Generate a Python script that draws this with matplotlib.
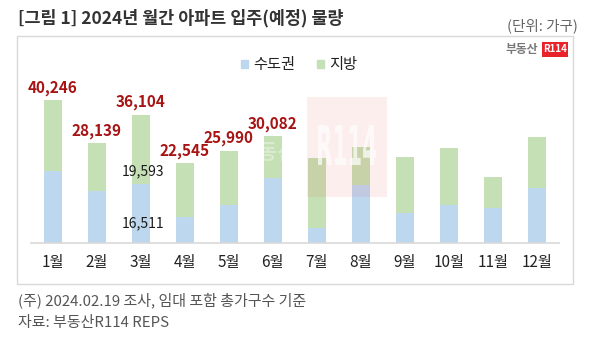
import matplotlib
matplotlib.use("Agg")
import matplotlib.pyplot as plt
from matplotlib.patches import Rectangle, Patch, PathPatch
from matplotlib.textpath import TextPath
from matplotlib.font_manager import FontProperties
from matplotlib.transforms import Affine2D

plt.rcParams['font.family'] = ['Noto Sans CJK KR', 'DejaVu Sans']

months = ['1월', '2월', '3월', '4월', '5월', '6월', '7월', '8월', '9월', '10월', '11월', '12월']
capital = [20300, 14580, 16511, 7140, 10530, 18240, 4230, 16270, 8270, 10720, 9870, 15510]
regional = [19946, 13559, 19593, 15405, 15460, 11842, 19650, 10800, 15900, 16070, 8550, 14290]
labeled_months = 6  # totals are printed for Jan-Jun
series_names = ['수도권', '지방']

title = '[그림 1] 2024년 월간 아파트 입주(예정) 물량'
unit = '(단위: 가구)'
note = '(주) 2024.02.19 조사, 임대 포함 총가구수 기준'
source = '자료: 부동산R114 REPS'

c_capital = '#BDD7EE'
c_regional = '#C5E0B4'
c_total = '#A81414'

W, H = 600, 340
fig = plt.figure(figsize=(W / 100, H / 100), dpi=100)

def fx(px):
    return px / W

def fy(py):
    return 1 - py / H

# panel frame
fig.patches.append(Rectangle((fx(17), fy(284)), fx(556), (284 - 36) / H,
                             transform=fig.transFigure, fill=False,
                             edgecolor='#D9D9D9', linewidth=1.0, zorder=0))

ax = fig.add_axes([fx(30.7), fy(242.7), 528 / W, 159.6 / H])
ax.set_xlim(-0.5, len(months) - 0.5)
ax.set_ylim(0, 45000)

x = list(range(len(months)))
totals = [c + r for c, r in zip(capital, regional)]
ax.bar(x, capital, width=0.41, color=c_capital, label=series_names[0], zorder=2)
ax.bar(x, regional, bottom=capital, width=0.41, color=c_regional,
       label=series_names[1], zorder=2)

for i in range(labeled_months):
    ax.annotate(f'{totals[i]:,}', (x[i], totals[i]), xytext=(0, 3),
                textcoords='offset points', ha='center', va='bottom',
                fontsize=11, fontweight='bold', color=c_total)

# segment values for March
ax.annotate(f'{regional[2]:,}', (x[2], capital[2]), xytext=(2, 4),
            textcoords='offset points', ha='center', va='bottom',
            fontsize=10, color='#1a1a1a', zorder=5)
ax.annotate(f'{capital[2]:,}', (x[2], 0), xytext=(2, 9),
            textcoords='offset points', ha='center', va='bottom',
            fontsize=10, color='#1a1a1a', zorder=5)

ax.set_xticks(x)
ax.set_xticklabels(months, fontsize=11, color='#222222')
ax.tick_params(axis='x', length=0, pad=8)
ax.set_yticks([])
for s in ['top', 'right', 'left']:
    ax.spines[s].set_visible(False)
ax.spines['bottom'].set_color('#D9D9D9')
ax.spines['bottom'].set_linewidth(1.2)
ax.patch.set_alpha(0)

handles = [Patch(color=c_capital), Patch(color=c_regional)]
fig.legend(handles, series_names, loc='center', bbox_to_anchor=(fx(299), fy(65)),
           ncol=2, frameon=False, fontsize=11, handlelength=0.45, handleheight=0.45,
           handletextpad=0.35, columnspacing=1.4, labelcolor='#222222')

# watermark: faint tinted block with tall white lettering
fig.patches.append(Rectangle((fx(307), fy(197)), fx(80), (197 - 97) / H,
                             transform=fig.transFigure, facecolor='#E83030',
                             alpha=0.08, edgecolor='none', zorder=3))
mark = TextPath((0, 0), 'R114', size=20,
                prop=FontProperties(family='DejaVu Sans', weight='bold'))
ext = mark.get_extents()
box_l, box_r, box_top, box_bot = 318, 376, 125, 165
sx = (box_r - box_l) / ext.width
sy = (box_bot - box_top) / ext.height
mark_tf = (Affine2D().translate(-ext.x0, -ext.y0).scale(sx, sy)
           .translate(box_l, H - box_bot))
fig.patches.append(PathPatch(mark, transform=mark_tf, facecolor='white',
                             edgecolor='none', alpha=0.7, zorder=4))
fig.text(fx(268), fy(153), '부동산', ha='center', va='center', fontsize=15,
         fontweight='bold', color='white', alpha=0.35, zorder=4)

# logo
fig.text(fx(538), fy(50), '부동산', ha='right', va='center', fontsize=8.5,
         fontweight='bold', color='#777777')
fig.patches.append(Rectangle((fx(541.5), fy(57)), fx(26.5), 15 / H,
                             transform=fig.transFigure, facecolor='#E8232A',
                             edgecolor='none'))
fig.text(fx(554.7), fy(49.5), 'R114', ha='center', va='center', fontsize=7,
         fontweight='bold', color='white')

fig.text(fx(18), fy(18), title, ha='left', va='center', fontsize=12.5,
         fontweight='bold', color='#333333')
fig.text(fx(578), fy(26), unit, ha='right', va='center', fontsize=10.5,
         color='#666666')
fig.text(fx(18), fy(300), note, ha='left', va='center', fontsize=10.8,
         color='#555555')
fig.text(fx(18), fy(323), source, ha='left', va='center', fontsize=10.8,
         color='#555555')

fig.savefig('out.png', dpi=100)
